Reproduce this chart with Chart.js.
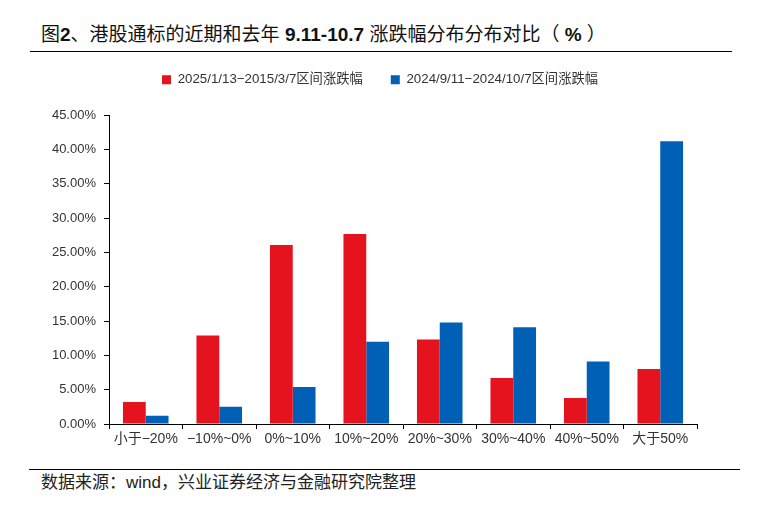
<!DOCTYPE html>
<html>
<head>
<meta charset="utf-8">
<script src="https://cdn.jsdelivr.net/npm/chart.js@4"></script>
<style>
    body { margin: 0; background: #fff; font-family: "Liberation Sans", "Noto Sans CJK SC", sans-serif; }
    #page { position: relative; width: 760px; height: 508px; overflow: hidden; }
    #title { position: absolute; left: 41px; top: 23px; font-size: 19px; color: #111; white-space: nowrap; line-height: 24px; }
    #title b { font-weight: bold; }
    #rule-top { position: absolute; left: 30px; top: 51px; width: 702px; height: 1px; background: #000; }
    #rule-bottom { position: absolute; left: 29px; top: 469px; width: 711px; height: 1px; background: #000; }
    #source { position: absolute; left: 41px; top: 472px; font-size: 17px; color: #222; white-space: nowrap; line-height: 22px; }
    #chart-box { position: absolute; left: 0; top: 37px; width: 760px; height: 423px; }
</style>
</head>
<body>
<div id="page">
    <div id="title">图<b>2</b>、港股通标的近期和去年 <b>9.11-10.7</b> 涨跌幅分布分布对比（ <b>%</b> ）</div>
    <div id="rule-top"></div>
    <div id="chart-box"><canvas id="chart"></canvas></div>
    <div id="rule-bottom"></div>
    <div id="source">数据来源：wind，兴业证券经济与金融研究院整理</div>
</div>
<script>
// categories and series (values in %)
const categories = ['小于−20%', '−10%~0%', '0%~10%', '10%~20%', '20%~30%', '30%~40%', '40%~50%', '大于50%'];
const recentLabel = '2025/1/13−2015/3/7区间涨跌幅';
const lastYearLabel = '2024/9/11−2024/10/7区间涨跌幅';
const recentValues = [3.2, 12.9, 26.1, 27.7, 12.3, 6.7, 3.8, 8.0];
const lastYearValues = [1.2, 2.5, 5.4, 12.0, 14.8, 14.1, 9.1, 41.2];
const yTicks = [0, 5, 10, 15, 20, 25, 30, 35, 40, 45];

const fontFamily = '"Liberation Sans", "Noto Sans CJK SC", sans-serif';

// push the plot area down below the legend
const legendGap = {
    id: 'legendGap',
    beforeInit(chart) {
        const fit = chart.legend.fit;
        chart.legend.fit = function () {
            fit.bind(chart.legend)();
            this.height += 19;
        };
    }
};

const ctx = document.getElementById('chart').getContext('2d');
const chart = new Chart(ctx, {
    type: 'bar',
    data: {
        labels: categories,
        datasets: [{
            label: recentLabel,
            data: recentValues,
            backgroundColor: '#e5131d',
            categoryPercentage: 0.62,
            barPercentage: 1.0
        }, {
            label: lastYearLabel,
            data: lastYearValues,
            backgroundColor: '#0060b6',
            categoryPercentage: 0.62,
            barPercentage: 1.0
        }]
    },
    options: {
        responsive: true,
        maintainAspectRatio: false,
        animation: false,
        layout: { padding: { left: 0, right: 0, top: 8, bottom: 0 } },
        plugins: {
            legend: {
                position: 'top',
                labels: {
                    boxWidth: 9,
                    boxHeight: 9,
                    padding: 28,
                    color: '#333',
                    font: { family: fontFamily, size: 13.3 }
                }
            },
            tooltip: { enabled: false }
        },
        scales: {
            x: {
                grid: { offset: true, drawOnChartArea: false, drawTicks: true, tickLength: 5, color: '#000' },
                border: { color: '#000', width: 1 },
                ticks: { color: '#333', font: { family: fontFamily, size: 14 }, padding: 2, maxRotation: 0 },
                afterFit: (scale) => { scale.height = 36; }
            },
            y: {
                min: 0,
                max: 45,
                afterBuildTicks: (scale) => { scale.ticks = yTicks.map(v => ({ value: v })); },
                grid: { drawOnChartArea: false, drawTicks: true, tickLength: 5, color: '#000' },
                border: { color: '#000', width: 1 },
                ticks: {
                    color: '#333',
                    font: { family: fontFamily, size: 13 },
                    padding: 8,
                    callback: (value) => value.toFixed(2) + '%'
                },
                afterFit: (scale) => { scale.width = 109; }
            },
            // empty right axis, only reserves the blank margin on the right
            yRight: {
                position: 'right',
                display: true,
                grid: { display: false, drawTicks: false },
                border: { display: false },
                ticks: { display: false },
                afterFit: (scale) => { scale.width = 63; }
            }
        }
    },
    plugins: [legendGap]
});
</script>
</body>
</html>
